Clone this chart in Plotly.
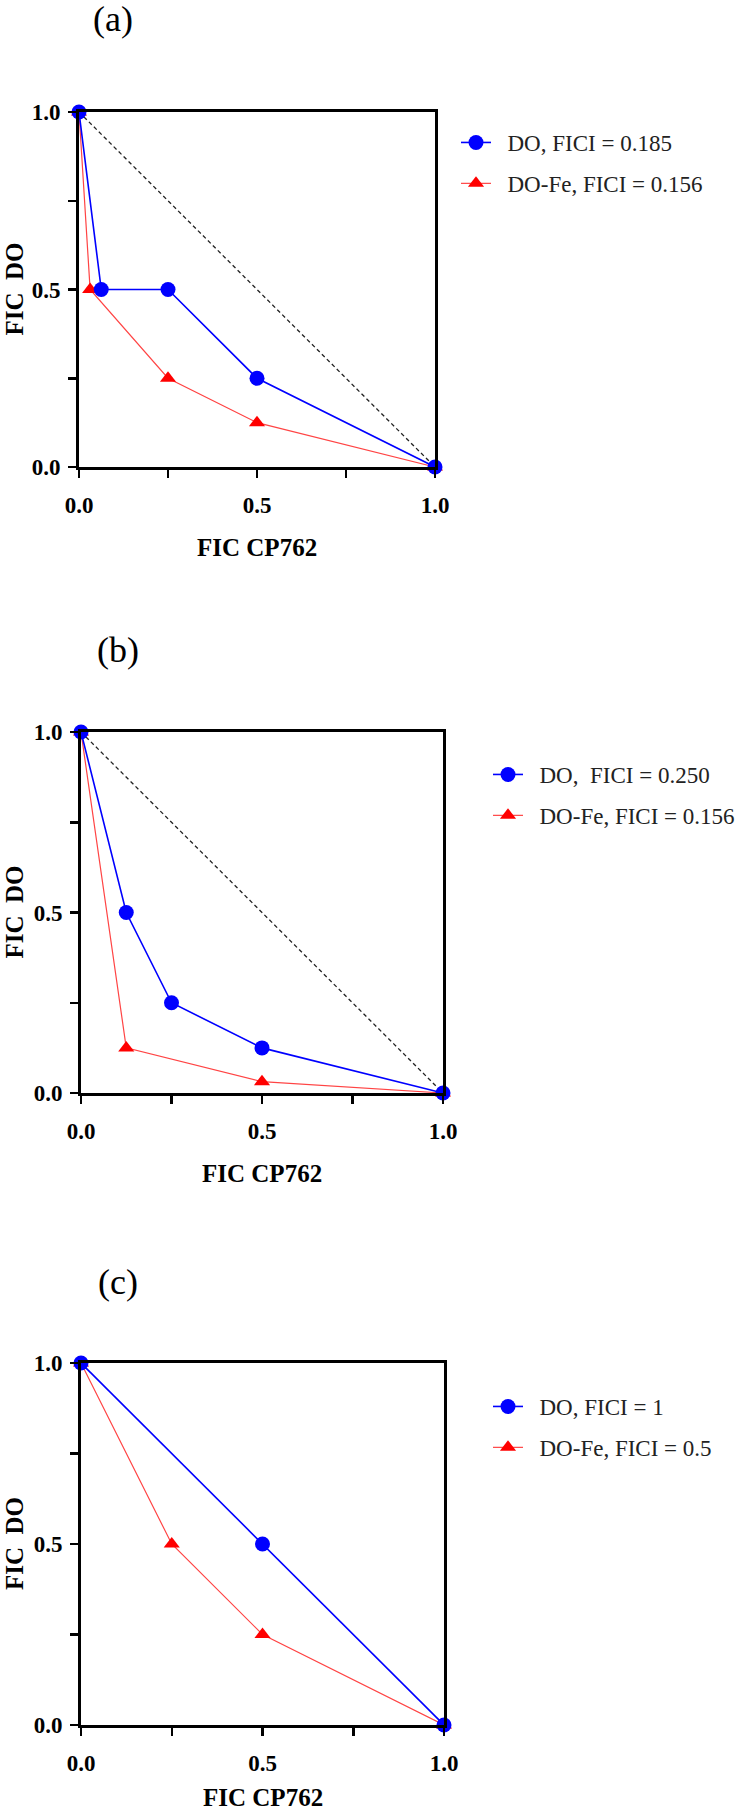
import plotly.graph_objects as go

# ---------------- data ----------------
panel_labels = ["(a)", "(b)", "(c)"]

a_do_x = [0, 0.0625, 0.25, 0.5, 1]
a_do_y = [1, 0.5, 0.5, 0.25, 0]
a_fe_x = [0, 0.03125, 0.25, 0.5, 1]
a_fe_y = [1, 0.5, 0.25, 0.125, 0]

b_do_x = [0, 0.125, 0.25, 0.5, 1]
b_do_y = [1, 0.5, 0.25, 0.125, 0]
b_fe_x = [0, 0.125, 0.5, 1]
b_fe_y = [1, 0.125, 0.03125, 0]

c_do_x = [0, 0.5, 1]
c_do_y = [1, 0.5, 0]
c_fe_x = [0, 0.25, 0.5, 1]
c_fe_y = [1, 0.5, 0.25, 0]

diag_x = [0, 1]
diag_y = [1, 0]

do_names = ["DO, FICI = 0.185", "DO,  FICI = 0.250", "DO, FICI = 1"]
fe_names = ["DO-Fe, FICI = 0.156", "DO-Fe, FICI = 0.156", "DO-Fe, FICI = 0.5"]
show_diag = [True, True, False]

tick_vals = [0, 0.25, 0.5, 0.75, 1]
tick_text = ["0.0", "", "0.5", "", "1.0"]
x_title = "FIC CP762"
y_title = "FIC\u00a0 DO"

panels = [
    (a_do_x, a_do_y, a_fe_x, a_fe_y),
    (b_do_x, b_do_y, b_fe_x, b_fe_y),
    (c_do_x, c_do_y, c_fe_x, c_fe_y),
]

# ---------------- layout geometry (pixels) ----------------
W, H = 750, 1813
# left, right, top, bottom of plot areas
boxes = [(79, 435, 112, 467), (81, 443, 732, 1093), (81, 444, 1363, 1725)]
label_pos = [(113, 19), (118, 650), (118, 1282)]
legend_pos = [(456, 121), (488, 753), (488, 1385)]
xtitle_offset = [80, 80, 72]

SERIF = "Liberation Serif, Times New Roman, serif"
PAD = "\u00a0\u00a0"

def px(x):
    return x / W

def py(y):
    return 1 - y / H

fig = go.Figure()
layout = dict(
    width=W, height=H,
    margin=dict(l=0, r=0, t=0, b=0, autoexpand=False),
    paper_bgcolor="white", plot_bgcolor="white",
    font=dict(family=SERIF, color="black"),
    annotations=[],
)

for i, (dx, dy, fx, fy) in enumerate(panels):
    k = "" if i == 0 else str(i + 1)
    xa, ya = "x" + k, "y" + k
    leg = "legend" + k
    l, r, t, b = boxes[i]

    if show_diag[i]:
        fig.add_trace(go.Scatter(
            x=diag_x, y=diag_y, mode="lines", xaxis=xa, yaxis=ya,
            line=dict(color="#222222", width=1.3, dash="4px,3px"),
            showlegend=False, hoverinfo="skip"))

    fig.add_trace(go.Scatter(
        x=fx, y=fy, mode="lines+markers", name=PAD + fe_names[i],
        xaxis=xa, yaxis=ya, legend=leg, legendgroup="fe" + k, legendrank=2,
        line=dict(color="#ff4444", width=1.2),
        marker=dict(symbol="triangle-up", size=14, color="#ff0000"),
        cliponaxis=False))
    fig.add_trace(go.Scatter(
        x=dx, y=dy, mode="lines+markers", name=PAD + do_names[i],
        xaxis=xa, yaxis=ya, legend=leg, legendgroup="do" + k, legendrank=1,
        line=dict(color="#0000ff", width=1.6),
        marker=dict(symbol="circle", size=15, color="#0000ff"),
        cliponaxis=False))

    axis_common = dict(
        range=[0, 1], showgrid=False, zeroline=False, automargin=False,
        showline=True, linewidth=3, linecolor="black", mirror=True,
        ticks="outside", ticklen=8, tickwidth=2.5, tickcolor="black",
        tickvals=tick_vals, ticktext=tick_text,
        tickfont=dict(family=SERIF, size=23, color="black", weight="bold"),
        fixedrange=True,
    )
    layout["xaxis" + k] = dict(axis_common, domain=[px(l), px(r)], anchor=ya,
                               ticklabelstandoff=7)
    layout["yaxis" + k] = dict(axis_common, domain=[py(b), py(t)], anchor=xa,
                               ticklabelstandoff=3)

    lx, ly = legend_pos[i]
    layout[leg] = dict(
        x=px(lx), y=py(ly), xanchor="left", yanchor="top",
        xref="paper", yref="paper",
        font=dict(family=SERIF, size=23, color="#222222"),
        bgcolor="rgba(0,0,0,0)", traceorder="grouped", tracegroupgap=8,
        itemwidth=30,
    )

    # panel label
    lbx, lby = label_pos[i]
    layout["annotations"].append(dict(
        text=panel_labels[i], x=px(lbx), y=py(lby), xref="paper", yref="paper",
        showarrow=False, xanchor="center", yanchor="middle",
        font=dict(family=SERIF, size=36, color="black")))
    # x axis title
    layout["annotations"].append(dict(
        text=x_title, x=px((l + r) / 2), y=py(b + xtitle_offset[i]),
        xref="paper", yref="paper",
        showarrow=False, xanchor="center", yanchor="middle",
        font=dict(family=SERIF, size=25, color="black", weight="bold")))
    # y axis title
    layout["annotations"].append(dict(
        text=y_title, x=px(14), y=py((t + b) / 2), xref="paper", yref="paper",
        showarrow=False, xanchor="center", yanchor="middle", textangle=-90,
        font=dict(family=SERIF, size=25, color="black", weight="bold")))

fig.update_layout(**layout)
fig.write_html(
    "out.html",
    config={"displayModeBar": False, "staticPlot": True},
    post_script="document.body.style.margin='0';document.body.style.overflow='hidden';",
)
